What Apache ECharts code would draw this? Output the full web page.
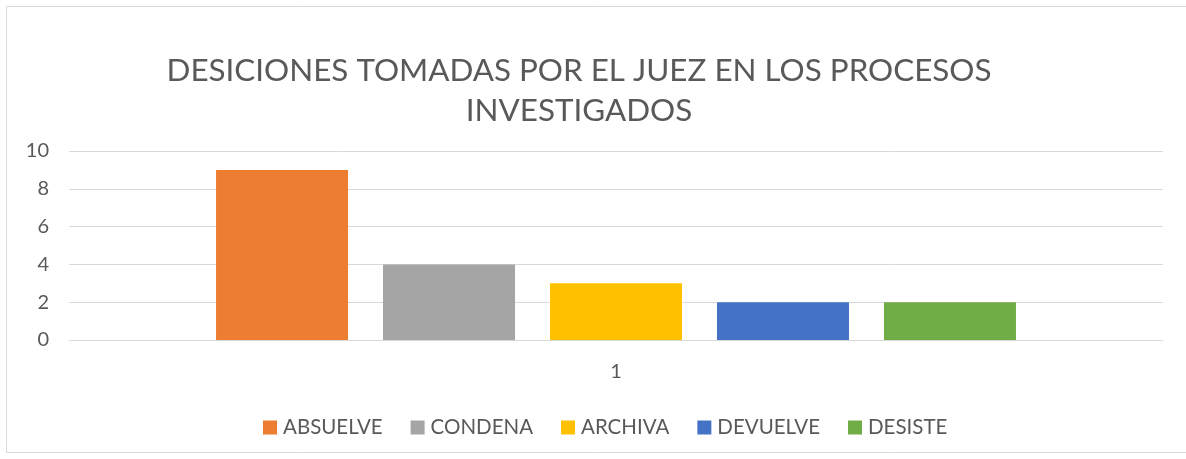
<!DOCTYPE html>
<html>
<head>
<meta charset="utf-8">
<script src="https://cdn.jsdelivr.net/npm/echarts@6/dist/echarts.min.js"></script>
<style>
  html, body { margin: 0; padding: 0; background: #fff; }
  #chart { width: 1186px; height: 459px; }
</style>
</head>
<body>
<div id="chart"></div>
<script>
// datos del grafico
const categories = ["1"];
const seriesNames = ["ABSUELVE", "CONDENA", "ARCHIVA", "DEVUELVE", "DESISTE"];
const seriesValues = [9, 4, 3, 2, 2];
const colors = ["#ED7D31", "#A5A5A5", "#FFC000", "#4472C4", "#70AD47"];
const yTicks = [0, 2, 4, 6, 8, 10];

const font = "Lato, 'Open Sans', sans-serif";
const textColor = "#595959";

const eChart = echarts.init(document.getElementById("chart"));

let seriesData = [];
for (let i = 0; i < seriesNames.length; i++) {
  seriesData.push({
    name: seriesNames[i],
    type: "bar",
    data: [seriesValues[i]],
    barWidth: 132,
    barGap: "26.5%",
    itemStyle: { color: colors[i] }
  });
}

const option = {
  animation: false,
  textStyle: { fontFamily: font },
  graphic: [
    {
      type: "rect",
      shape: { x: 6.5, y: 6.5, width: 1200, height: 446 },
      style: { fill: "none", stroke: "#d9d9d9", lineWidth: 1 },
      silent: true
    }
  ],
  title: {
    text: "DESICIONES TOMADAS POR EL JUEZ EN LOS PROCESOS\nINVESTIGADOS",
    left: 574,
    top: 46,
    textAlign: "center",
    textStyle: {
      fontFamily: font,
      fontSize: 31.4,
      fontWeight: "normal",
      color: textColor,
      lineHeight: 40,
      align: "center"
    }
  },
  legend: {
    data: seriesNames,
    left: 258,
    top: 412,
    itemWidth: 14,
    itemHeight: 14,
    itemGap: 28,
    icon: "rect",
    textStyle: { fontFamily: font, fontSize: 20.5, color: textColor, padding: [0, 0, 0, 1] }
  },
  grid: { left: 69, right: 23, top: 151, bottom: 119, containLabel: false },
  xAxis: {
    type: "category",
    data: categories,
    axisLine: { show: true, lineStyle: { color: "#d9d9d9", width: 1 } },
    axisTick: { show: false },
    axisLabel: { fontFamily: font, fontSize: 20, color: textColor, margin: 22 }
  },
  yAxis: {
    type: "value",
    min: yTicks[0],
    max: yTicks[yTicks.length - 1],
    interval: 2,
    axisLine: { show: false },
    axisTick: { show: false },
    splitLine: { lineStyle: { color: "#d9d9d9", width: 1 } },
    axisLabel: { fontFamily: font, fontSize: 20, color: textColor, margin: 20 }
  },
  series: seriesData
};

eChart.setOption(option);
</script>
</body>
</html>
